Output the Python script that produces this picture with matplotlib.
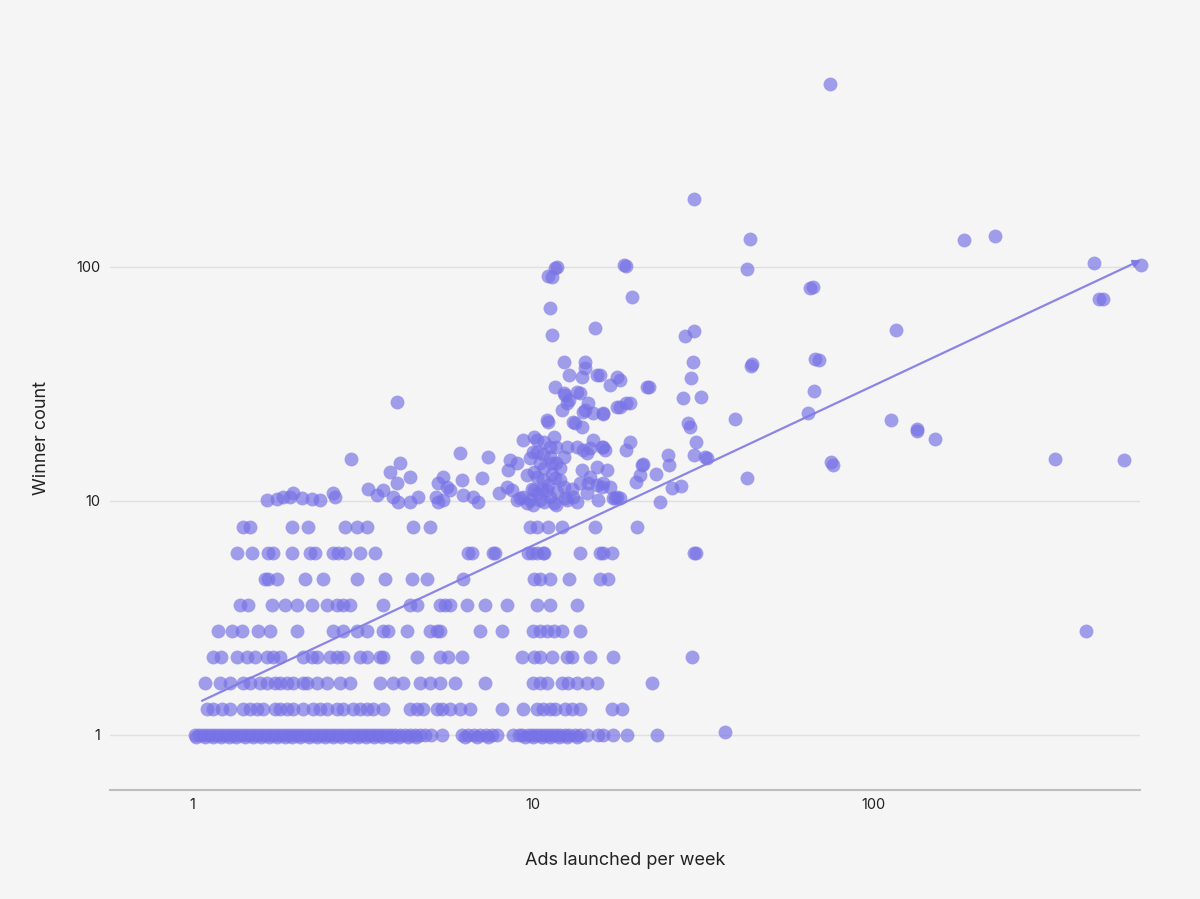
import numpy as np
import matplotlib
matplotlib.use("Agg")
import matplotlib.pyplot as plt

plt.rcParams['font.family'] = ['Inter', 'DejaVu Sans']

# winner counts sit on fixed levels below 10, one x list per level
row_levels = [1.0, 1.29, 1.67, 2.15, 2.78, 3.59, 4.64, 5.99, 7.74]

x_at_1 = [1.02, 1.048, 1.077, 1.107, 1.137, 1.168, 1.20, 1.233, 1.266, 1.30,
          1.337, 1.373, 1.411, 1.45, 1.489, 1.53, 1.572, 1.615, 1.66, 1.705,
          1.752, 1.80, 1.849, 1.90, 1.952, 2.005, 2.06, 2.116, 2.174, 2.234,
          2.295, 2.358, 2.422, 2.489, 2.557, 2.627, 2.699, 2.773, 2.848, 2.927,
          3.006, 3.089, 3.173, 3.26, 3.349, 3.441, 3.535, 3.632, 3.731, 3.833,
          3.938, 4.074, 4.214, 4.358, 4.508, 4.664, 4.823, 5.022, 5.41, 6.19,
          6.45, 6.71, 6.99, 7.28, 7.58, 7.84, 8.74, 9.10, 9.29, 9.67, 9.93,
          10.2, 10.5, 10.8, 11.1, 11.4, 11.7, 12.0, 12.4, 12.8, 13.3, 13.7,
          14.4, 15.5, 16.0, 17.2, 18.9, 23.1]
x_at_1_29 = [1.107, 1.152, 1.224, 1.29, 1.411, 1.48, 1.55, 1.615, 1.752, 1.81,
             1.90, 1.98, 2.116, 2.26, 2.37, 2.49, 2.66, 2.77, 2.96, 3.11, 3.26,
             3.39, 3.63, 4.36, 4.57, 4.76, 5.23, 5.42, 5.71, 6.11, 6.54, 8.12,
             9.36, 10.3, 10.7, 11.2, 11.6, 12.4, 13.0, 13.7, 17.0, 18.3]
x_at_1_67 = [1.09, 1.21, 1.29, 1.41, 1.48, 1.58, 1.66, 1.75, 1.81, 1.90, 1.98,
             2.12, 2.17, 2.33, 2.49, 2.72, 2.90, 3.56, 3.88, 4.15, 4.66, 4.99,
             5.34, 5.91, 7.23, 9.98, 10.5, 11.0, 12.2, 12.7, 13.5, 14.4, 15.4,
             22.3]
x_at_2_15 = [1.15, 1.22, 1.36, 1.45, 1.53, 1.66, 1.73, 1.81, 2.12, 2.25, 2.33,
             2.54, 2.66, 2.77, 3.11, 3.26, 3.56, 3.63, 4.57, 5.34, 5.63, 6.19,
             9.29, 10.1, 10.5, 11.4, 12.6, 13.0, 14.7, 17.2, 29.2]
x_at_2_78 = [1.19, 1.31, 1.40, 1.56, 1.69, 2.03, 2.59, 2.77, 3.05, 3.26, 3.63,
             3.75, 4.28, 4.99, 5.23, 5.34, 6.99, 8.12, 9.98, 10.5, 11.0, 11.5,
             12.2, 13.7, 419]
x_at_3_59 = [1.38, 1.46, 1.72, 1.87, 2.03, 2.25, 2.49, 2.66, 2.77, 2.90, 3.63,
             4.36, 4.57, 5.34, 5.52, 5.71, 6.40, 7.23, 8.39, 10.3, 11.2, 13.5]
x_at_4_64 = [1.64, 1.67, 1.77, 2.14, 2.42, 3.05, 3.68, 4.42, 4.88, 6.23, 10.1,
             10.5, 11.2, 12.8, 15.7, 16.6]
x_at_5_99 = [1.36, 1.50, 1.67, 1.73, 1.96, 2.22, 2.29, 2.59, 2.68, 2.81, 3.11,
             3.44, 6.45, 6.62, 7.63, 7.75, 9.67, 9.93, 10.3, 10.7, 10.8, 13.7,
             15.7, 16.0, 17.0, 29.7, 30.1]
x_at_7_74 = [1.41, 1.48, 1.96, 2.19, 2.81, 3.05, 3.26, 4.45, 4.99, 9.81, 10.3,
             11.1, 12.2, 15.2, 20.2]

# second, slightly lower pass of the crowded bottom row
x_at_0_98 = [1.03, 1.09, 1.15, 1.22, 1.28, 1.35, 1.43, 1.51, 1.59, 1.68, 1.77,
             1.87, 1.97, 2.08, 2.20, 2.32, 2.45, 2.59, 2.74, 2.90, 3.06, 3.24,
             3.42, 3.62, 3.83, 4.05, 4.29, 4.55, 6.30, 6.85, 7.40, 9.50, 10.0,
             10.6, 11.2, 11.9, 12.6, 13.5]

# free points from about 10 winners upward
upper_x = [1.66, 1.77, 1.85, 1.94, 1.98, 2.10, 2.25, 2.37, 2.59, 2.62, 2.93,
           3.99, 3.28, 3.48, 3.63, 3.81, 3.99, 4.07, 4.36, 3.88, 4.01, 4.36,
           4.60, 5.26, 5.44, 5.59, 6.11, 6.19, 6.23, 6.67, 6.90, 7.07, 7.38,
           5.26, 5.71, 5.44, 5.20,
           7.95, 8.39, 8.67, 8.56, 8.98, 8.45, 9.16, 9.60, 9.99, 9.35, 9.60,
           9.99, 10.1, 10.3, 10.1, 10.5, 10.7, 11.0, 11.2, 11.5, 11.7, 12.3,
           12.6, 12.0, 13.1, 13.5, 14.4, 15.0, 15.4, 15.9, 16.5, 16.8, 17.6,
           13.7, 14.4, 14.7, 11.6, 12.3, 12.6, 12.2, 13.7, 14.2, 15.0, 16.0,
           16.8, 18.0, 18.8, 13.3, 13.9, 18.8, 11.1, 13.1, 10.8, 11.7, 14.0,
           14.7, 16.3, 19.2, 10.3, 11.2, 11.4, 12.0, 13.9, 20.9, 20.6, 20.1,
           10.1, 10.3, 11.4, 12.3, 9.93, 10.3, 10.5, 11.0, 11.2, 11.8, 12.4,
           13.0, 14.5, 15.4, 15.9, 10.8, 11.5, 12.6, 13.5, 15.5, 17.2, 18.0,
           12.8, 13.9, 15.4, 17.6, 18.0, 12.4, 12.8, 13.5, 14.5, 14.0, 17.7,
           19.2, 21.6, 12.3, 14.2, 14.2, 15.7, 16.0, 16.0, 22.9, 21.0, 23.6,
           17.4, 16.0, 24.9, 25.0, 25.6, 27.2, 21.9, 10.7, 9.80, 10.8, 11.6,
           11.1, 9.80, 10.6, 11.7, 9.35, 8.98,
           11.6, 11.8, 11.1, 11.4, 18.5, 18.7, 19.5, 11.2, 11.4, 15.2,
           27.9, 29.7, 29.5, 29.1, 27.5, 31.1, 28.5, 28.9, 30.1, 29.7, 32.0,
           32.5, 29.7, 42.4, 39.1, 43.3, 42.4, 43.6, 43.9, 74.3, 184, 226,
           442, 607, 64.9, 66.2, 116, 457, 469, 67.1, 69.0, 66.7, 64.0, 112,
           134, 134, 151, 74.8, 75.8, 340, 541, 36.6]
upper_y = [10.1, 10.2, 10.4, 10.4, 10.8, 10.3, 10.2, 10.1, 10.8, 10.4, 15.1,
           26.5, 11.3, 10.6, 11.1, 13.3, 11.9, 14.6, 12.6, 10.4, 9.9, 9.9,
           10.4, 11.9, 12.6, 11.5, 16.0, 12.3, 10.6, 10.4, 9.9, 12.5, 15.4,
           9.9, 11.1, 10.1, 10.4,
           10.8, 11.5, 11.1, 15.0, 14.5, 13.6, 10.3, 9.8, 9.6, 18.2, 12.9,
           16.2, 18.8, 18.2, 11.1, 14.5, 12.3, 22.2, 17.0, 18.8, 14.5, 15.4,
           17.0, 12.3, 10.4, 17.0, 16.0, 18.2, 14.0, 17.0, 13.6, 11.5, 10.4,
           11.9, 10.8, 12.6, 30.6, 29.0, 26.2, 24.5, 29.0, 24.5, 23.7, 23.7,
           31.3, 25.2, 26.2, 21.5, 20.7, 16.5, 21.7, 21.7, 17.8, 17.0, 16.5,
           16.8, 16.5, 17.8, 16.2, 15.4, 14.5, 13.9, 13.6, 14.2, 12.9, 12.1,
           13.3, 12.6, 13.1, 11.5, 11.3, 10.8, 10.1, 11.1, 10.4, 10.9, 10.3,
           11.3, 11.9, 11.7, 11.5, 9.9, 9.8, 10.1, 9.9, 10.1, 10.3, 10.3,
           34.5, 33.8, 34.5, 33.8, 32.9, 28.4, 27.0, 29.2, 26.2, 24.0, 25.2,
           26.2, 30.6, 39.3, 39.3, 37.0, 34.5, 23.5, 17.0, 13.0, 14.4, 9.9,
           10.3, 11.9, 15.7, 14.3, 11.4, 11.6, 30.7, 15.8, 15.3, 13.8, 12.5,
           11.7, 10.1, 11.3, 9.6, 10.4, 10.1,
           98.6, 100, 91.4, 90.6, 102, 101, 74.5, 66.8, 51.2, 55.0,
           50.7, 53.3, 39.3, 33.5, 27.5, 27.8, 21.5, 20.7, 17.9, 15.7, 15.4,
           15.3, 195, 12.5, 22.4, 132, 98, 37.8, 38.5, 605, 131, 136,
           104, 102, 81.3, 82.2, 53.8, 73, 73, 40.4, 40.1, 29.5, 23.8, 22.2,
           19.9, 20.3, 18.4, 14.7, 14.2, 15.1, 15.0, 1.03]

# fitted trend, drawn as an arrow
trend_x = [1.07, 607]
trend_y = [1.40, 107]

dot_color = '#7772e6'

rows = [x_at_1, x_at_1_29, x_at_1_67, x_at_2_15, x_at_2_78,
        x_at_3_59, x_at_4_64, x_at_5_99, x_at_7_74, x_at_0_98]
levels = row_levels + [0.98]
xs = []
ys = []
for level, row in zip(levels, rows):
    xs += row
    ys += [level] * len(row)
xs += upper_x
ys += upper_y

fig = plt.figure(figsize=(12, 8.99), dpi=100)
fig.patch.set_facecolor('#f5f5f5')
ax = fig.add_axes([110 / 1200, 109 / 899, 1030 / 1200, 750 / 899])
ax.set_facecolor('#f5f5f5')

ax.set_xscale('log')
ax.set_yscale('log')
ax.set_xlim(0.575, 603)
ax.set_ylim(0.582, 933)

ax.scatter(xs, ys, s=100, color=dot_color, alpha=0.68, linewidths=0,
           clip_on=False, zorder=3)

ax.annotate('', xy=(trend_x[1], trend_y[1]), xytext=(trend_x[0], trend_y[0]),
            arrowprops=dict(arrowstyle='-|>', color='#7e79e6', lw=1.6,
                            mutation_scale=11, shrinkA=0, shrinkB=0,
                            alpha=0.9),
            annotation_clip=False, zorder=4)

ax.set_xticks([1, 10, 100])
ax.set_xticklabels(['1', '10', '100'])
ax.set_yticks([1, 10, 100])
ax.set_yticklabels(['1', '10', '100'])
ax.minorticks_off()
ax.tick_params(axis='both', length=0, labelsize=10.5, colors='#222222')
ax.tick_params(axis='x', pad=6)
ax.tick_params(axis='y', pad=7)

ax.grid(axis='y', color='#e0e0e0', linewidth=1)
ax.set_axisbelow(True)

for side in ['top', 'right', 'left']:
    ax.spines[side].set_visible(False)
ax.spines['bottom'].set_color('#bdbdbd')
ax.spines['bottom'].set_linewidth(1.5)

ax.set_xlabel('Ads launched per week', fontsize=13, color='#222222')
ax.xaxis.set_label_coords(0.5, -0.083)
ax.set_ylabel('Winner count', fontsize=13, color='#222222')
ax.yaxis.set_label_coords(-0.058, 0.47)

fig.savefig('out.png', dpi=100, facecolor=fig.get_facecolor())
